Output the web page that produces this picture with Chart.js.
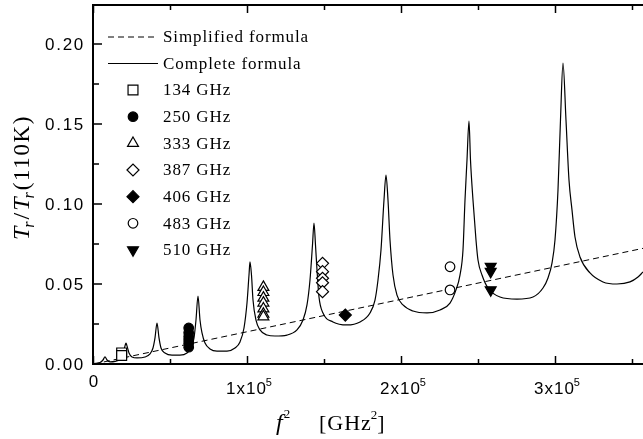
<!DOCTYPE html>
<html>
<head>
<meta charset="UTF-8">
<title>Tr/Tr(110K) vs f^2</title>
<script src="https://cdn.jsdelivr.net/npm/chart.js@4.4.0/dist/chart.umd.min.js"></script>
<style>
  html, body { margin: 0; padding: 0; background: #fff; }
  canvas { display: block; }
</style>
</head>
<body>
<canvas id="myChart" width="643" height="439"></canvas>
<script>
// complete formula
var completeX = [0, 3900, 5840, 7140, 8440, 10390, 13640, 16880, 18830, 20130, 20780, 21430, 22730, 24680,
  27920, 33120, 36360, 38310, 39610, 40910, 42210, 43510, 46100, 50650, 55840, 60390, 62990, 64940,
  66230, 67530, 68830, 70130, 72080, 75330, 79870, 86360, 91560, 94810, 97400, 99350, 100650, 101300,
  102270, 103250, 105190, 107790, 112340, 117530, 125320, 131820, 135710, 138310, 140260, 141880,
  142860, 143830, 144810, 146100, 148700, 155190, 164290, 172730, 179220, 182470, 184420, 186360,
  188310, 189610, 190910, 192210, 194160, 196750, 200650, 207140, 216230, 224680, 231170, 235060,
  237660, 239610, 240910, 242210, 243510, 244480, 246100, 248050, 249350, 251950, 255840, 263640,
  274680, 285060, 291560, 294810, 297400, 299350, 301300, 302920, 304550, 306490, 308440, 310390,
  312340, 315580, 322080, 330520, 339610, 348050, 353250, 356490];
var completeY = [0.0003, 0.0009, 0.0025, 0.0044, 0.0025, 0.0013, 0.0016, 0.0031, 0.0063, 0.0113, 0.0131, 0.0113, 0.0069, 0.0044,
  0.0038, 0.0044, 0.0063, 0.0100, 0.0163, 0.0256, 0.0163, 0.0100, 0.0069, 0.0056, 0.0056, 0.0069, 0.0100, 0.0163,
  0.0275, 0.0425, 0.0275, 0.0194, 0.0131, 0.0094, 0.0081, 0.0081, 0.0100, 0.0138, 0.0225, 0.0381, 0.0556, 0.0638,
  0.0556, 0.0400, 0.0275, 0.0213, 0.0181, 0.0175, 0.0181, 0.0213, 0.0275, 0.0369, 0.0525, 0.0744,
  0.0881, 0.0744, 0.0588, 0.0419, 0.0319, 0.0263, 0.0244, 0.0263, 0.0319, 0.0400, 0.0525, 0.0713,
  0.1025, 0.1181, 0.1025, 0.0775, 0.0556, 0.0431, 0.0369, 0.0331, 0.0319, 0.0338, 0.0381, 0.0463,
  0.0556, 0.0713, 0.1025, 0.1275, 0.1519, 0.1275, 0.1025, 0.0775, 0.0650, 0.0556, 0.0475, 0.0419,
  0.0406, 0.0419, 0.0475, 0.0538, 0.0631, 0.0775, 0.1088, 0.1525, 0.1881, 0.1525, 0.1150, 0.0963,
  0.0794, 0.0669, 0.0569, 0.0513, 0.0500, 0.0513, 0.0544, 0.0575];

// simplified formula (straight line)
var simpleX = [0, 360000];
var simpleY = [0, 0.073];

// measurements
var f134X = [17956, 17956];
var f134Y = [0.0069, 0.0053];
var f250X = [61500, 61500, 61500, 61500, 61500, 61500];
var f250Y = [0.0225, 0.0195, 0.0170, 0.0150, 0.0130, 0.0105];
var f333X = [110000, 110000, 110000, 110000, 110000, 110000, 110000];
var f333Y = [0.0480, 0.0448, 0.0413, 0.0382, 0.0345, 0.0312, 0.0295];
var f387X = [148400, 148400, 148400, 148400, 148400];
var f387Y = [0.0629, 0.0577, 0.0536, 0.0508, 0.0452];
var f406X = [163200];
var f406Y = [0.0306];
var f483X = [231200, 231200];
var f483Y = [0.0608, 0.0463];
var f510X = [257600, 257600, 257600];
var f510Y = [0.0609, 0.0578, 0.0463];

var yTicks = [0, 0.05, 0.10, 0.15, 0.20];
var yTickLabels = ['0.00', '0.05', '0.10', '0.15', '0.20'];
var xTicks = [0, 100000, 200000, 300000];
var xTickLabels = ['0', '1x10', '2x10', '3x10'];
var xTickSups = ['', '5', '5', '5'];
var legendLabels = ['Simplified formula', 'Complete formula', '134 GHz', '250 GHz', '333 GHz',
  '387 GHz', '406 GHz', '483 GHz', '510 GHz'];

function pts(xs, ys) {
  return xs.map(function(x, i) { return {x: x, y: ys[i]}; });
}

function markerSet(label, xs, ys, style, radius, filled, rotation) {
  return {
    label: label,
    data: pts(xs, ys),
    showLine: false,
    pointStyle: style,
    pointRadius: radius,
    pointHoverRadius: radius,
    pointRotation: rotation || 0,
    pointBackgroundColor: filled ? '#000' : '#fff',
    pointBorderColor: '#000',
    pointBorderWidth: 1.2
  };
}

// markers first so they sit on top of the lines
var markers = [
  markerSet(legendLabels[2], f134X, f134Y, 'rect', 7, false),
  markerSet(legendLabels[3], f250X, f250Y, 'circle', 4.8, true),
  markerSet(legendLabels[4], f333X, f333Y, 'triangle', 6.3, false),
  markerSet(legendLabels[5], f387X, f387Y, 'rectRot', 6, false),
  markerSet(legendLabels[6], f406X, f406Y, 'rectRot', 6, true),
  markerSet(legendLabels[7], f483X, f483Y, 'circle', 4.8, false),
  markerSet(legendLabels[8], f510X, f510Y, 'triangle', 6.3, true, 180)
];

var lines = [
  {
    label: legendLabels[0],
    data: pts(simpleX, simpleY),
    showLine: true,
    borderColor: '#000',
    borderWidth: 1,
    borderDash: [6, 4],
    pointRadius: 0,
    fill: false
  },
  {
    label: legendLabels[1],
    data: pts(completeX, completeY),
    showLine: true,
    borderColor: '#000',
    borderWidth: 1.2,
    pointRadius: 0,
    cubicInterpolationMode: 'monotone',
    fill: false
  }
];

var serif = '"Liberation Serif", "Times New Roman", serif';
var sans = '"Liberation Sans", Arial, sans-serif';

function drawMarker(c, ds, x, y) {
  c.save();
  c.fillStyle = ds.pointBackgroundColor;
  c.strokeStyle = ds.pointBorderColor;
  c.lineWidth = ds.pointBorderWidth;
  Chart.helpers.drawPoint(c, {
    pointStyle: ds.pointStyle, radius: ds.pointRadius,
    rotation: ds.pointRotation, borderWidth: ds.pointBorderWidth
  }, x, y);
  c.restore();
}

// draws text piece by piece, returns the new x
function piece(c, txt, x, y, font, spacing) {
  c.font = font;
  c.letterSpacing = (spacing || 0) + 'px';
  c.fillText(txt, x, y);
  return x + c.measureText(txt).width;
}

var framePlugin = {
  id: 'frame',
  afterDraw: function(chart) {
    var c = chart.ctx, a = chart.chartArea;
    var sx = chart.scales.x, sy = chart.scales.y;
    c.save();
    c.strokeStyle = '#000';
    c.fillStyle = '#000';

    // box
    c.lineWidth = 2;
    c.beginPath();
    c.moveTo(a.right + 2, a.top);
    c.lineTo(a.left - 1, a.top);
    c.lineTo(a.left - 1, a.bottom);
    c.lineTo(a.right + 2, a.bottom);
    c.stroke();

    // inward ticks
    c.lineWidth = 1.5;
    c.beginPath();
    for (var i = 0; i <= 8; i++) {
      var py = Math.round(sy.getPixelForValue(i * 0.025));
      var len = i % 2 === 0 ? 8 : 5;
      c.moveTo(a.left, py); c.lineTo(a.left + len, py);
    }
    for (var j = 0; j <= 7; j++) {
      var px = Math.round(sx.getPixelForValue(j * 50000)) - 0.5;
      var l2 = j % 2 === 0 ? 8 : 5;
      c.moveTo(px, a.bottom); c.lineTo(px, a.bottom - l2);
      c.moveTo(px, a.top); c.lineTo(px, a.top + l2);
    }
    c.stroke();

    // y tick labels
    c.textAlign = 'right';
    c.textBaseline = 'middle';
    yTicks.forEach(function(v, k) {
      c.font = '17px ' + sans;
      c.letterSpacing = '1.7px';
      c.fillText(yTickLabels[k], 85, sy.getPixelForValue(v) + 1);
    });

    // x tick labels
    c.textAlign = 'left';
    c.textBaseline = 'alphabetic';
    xTicks.forEach(function(v, k) {
      var cx = sx.getPixelForValue(v);
      c.font = '17px ' + sans;
      c.letterSpacing = '1px';
      var w1 = c.measureText(xTickLabels[k]).width;
      c.font = '11px ' + sans;
      var w2 = xTickSups[k] ? c.measureText(xTickSups[k]).width : 0;
      var x0 = cx - (w1 + w2) / 2 + (xTickSups[k] ? 2 : 0);
      var base = xTickSups[k] ? 394 : 387;
      var nx = piece(c, xTickLabels[k], x0, base, '17px ' + sans, 1);
      if (xTickSups[k]) piece(c, xTickSups[k], nx - 1, base - 8, '11px ' + sans, 0);
    });

    // x title: f^2 [GHz^2]
    var tx = 276, tb = 430;
    tx = piece(c, 'f', tx, tb, 'italic 24px ' + serif, 0);
    tx = piece(c, '2', tx + 1, tb - 12, '13px ' + serif, 0);
    tx = piece(c, '[GHz', 319, tb, '22px ' + serif, 1);
    tx = piece(c, '2', tx - 1, tb - 11, '13px ' + serif, 0);
    piece(c, ']', tx, tb, '22px ' + serif, 1);

    // y title: Tr/Tr(110K), rotated
    c.save();
    c.translate(29, 240);
    c.rotate(-Math.PI / 2);
    var yx = 0;
    yx = piece(c, 'T', yx, 0, 'italic 24px ' + serif, 2);
    yx = piece(c, 'r', yx - 3, 5, 'italic 16px ' + serif, 2);
    yx = piece(c, '/', yx, 0, '24px ' + serif, 2);
    yx = piece(c, 'T', yx, 0, 'italic 24px ' + serif, 2);
    yx = piece(c, 'r', yx - 3, 5, 'italic 16px ' + serif, 2);
    piece(c, '(110K)', yx, 0, '23px ' + serif, 1.6);
    c.restore();

    // legend
    var rowY = [37, 63.5, 90, 116.7, 143.3, 170, 196.7, 223.3, 250];
    c.textAlign = 'left';
    c.textBaseline = 'middle';
    c.lineWidth = 1;
    c.setLineDash([6, 4]);
    c.beginPath(); c.moveTo(108, rowY[0]); c.lineTo(158, rowY[0]); c.stroke();
    c.setLineDash([]);
    c.lineWidth = 1.2;
    c.beginPath(); c.moveTo(108, rowY[1]); c.lineTo(158, rowY[1]); c.stroke();
    markers.forEach(function(ds, k) {
      drawMarker(c, ds, 133, rowY[k + 2]);
    });
    legendLabels.forEach(function(t, k) {
      piece(c, t, 163, rowY[k] + 1, '17px ' + serif, 0.9);
    });
    c.restore();
  }
};

var ctx = document.getElementById('myChart').getContext('2d');
var myChart = new Chart(ctx, {
  type: 'scatter',
  data: { datasets: markers.concat(lines) },
  options: {
    responsive: false,
    animation: false,
    events: [],
    layout: { autoPadding: false, padding: { left: 94, top: 5, right: 0, bottom: 75 } },
    plugins: {
      legend: { display: false },
      tooltip: { enabled: false }
    },
    scales: {
      x: { type: 'linear', display: false, min: 0, max: 356500 },
      y: { type: 'linear', display: false, min: 0, max: 0.2244 }
    }
  },
  plugins: [framePlugin]
});
</script>
</body>
</html>
